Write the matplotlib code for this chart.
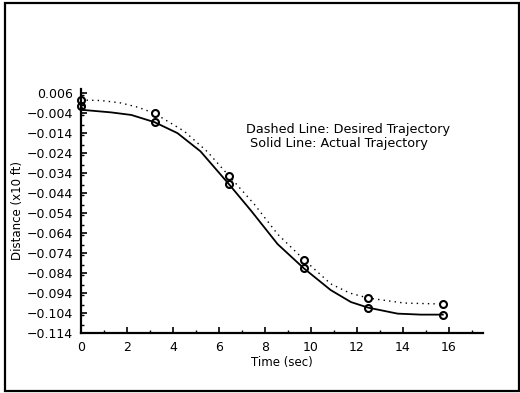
import matplotlib
matplotlib.use("Agg")
import matplotlib.pyplot as plt
from matplotlib.ticker import FixedLocator, MultipleLocator, FuncFormatter

# ---- data ----
t_marks = [0.0, 3.2, 6.45, 9.7, 12.5, 15.75]
desired_marks = [0.0027, -0.0040, -0.0354, -0.0772, -0.0965, -0.0995]
actual_marks = [-0.0005, -0.0084, -0.0396, -0.0816, -0.1013, -0.1048]

t_desired = [0.0, 0.9, 1.74, 2.5, 3.2, 4.5, 5.5, 6.45, 7.55, 8.56, 9.7, 10.87, 11.7, 12.5, 14.07, 15.75]
desired = [0.0027, 0.0024, 0.0012, -0.0010, -0.0040, -0.0130, -0.0232, -0.0354, -0.0496, -0.0645,
           -0.0772, -0.0894, -0.0940, -0.0965, -0.0990, -0.0995]

t_actual = [0.0, 0.1, 1.3, 2.19, 3.2, 4.2, 5.2, 6.45, 7.4, 8.56, 9.7, 10.87, 11.75, 12.5, 13.78, 14.8, 15.75]
actual = [-0.0005, -0.0023, -0.0035, -0.0048, -0.0084, -0.0139, -0.0230, -0.0396, -0.0527, -0.0695,
          -0.0816, -0.0925, -0.0985, -0.1013, -0.1043, -0.1048, -0.1048]

x_ticks = [0, 2, 4, 6, 8, 10, 12, 14, 16]
y_ticks = [0.006, -0.004, -0.014, -0.024, -0.034, -0.044, -0.054, -0.064,
           -0.074, -0.084, -0.094, -0.104, -0.114]

W, H = 520, 393
fig = plt.figure(figsize=(W / 100, H / 100), dpi=100)
fig.patch.set_facecolor("white")

# outer frame
frame = plt.Rectangle((4.5 / W, 2.5 / H), (W - 6) / W, (H - 5) / H, transform=fig.transFigure,
                      fill=False, edgecolor="black", linewidth=1.6)
fig.add_artist(frame)

ax = fig.add_axes([81 / W, (H - 333) / H, 402 / W, (333 - 89) / H])
ax.set_xlim(0, 17.5)
ax.set_ylim(-0.114, 0.0082)

for s in ["top", "right"]:
    ax.spines[s].set_visible(False)
for s in ["left", "bottom"]:
    ax.spines[s].set_linewidth(1.6)

ax.xaxis.set_major_locator(FixedLocator(x_ticks))
ax.xaxis.set_minor_locator(MultipleLocator(1))
ax.yaxis.set_major_locator(FixedLocator(y_ticks))
ax.yaxis.set_minor_locator(MultipleLocator(0.005))
ax.yaxis.set_major_formatter(FuncFormatter(lambda v, p: ("\u2212" + f"{abs(v):.3f}") if v < 0 else f"{v:.3f}"))
ax.tick_params(which="major", direction="in", length=4, width=1.2, labelsize=9, pad=6)
ax.tick_params(which="minor", direction="in", length=2.5, width=1.0)

ax.plot(t_desired, desired, color="black", linewidth=1.0, linestyle=(0, (1, 3)))
ax.plot(t_actual, actual, color="black", linewidth=1.3)
ax.plot(t_marks, desired_marks, linestyle="none", marker="o", markersize=5,
        markerfacecolor="white", markeredgecolor="black", markeredgewidth=1.5, clip_on=False)
ax.plot(t_marks, actual_marks, linestyle="none", marker="o", markersize=5,
        markerfacecolor="none", markeredgecolor="black", markeredgewidth=1.5, clip_on=False)

ax.set_xlabel("Time (sec)", fontsize=8.5, labelpad=1)
ax.set_ylabel("Distance (x10 ft)", fontsize=8.5, labelpad=2)

ax.text(246 / W, 1 - 129.5 / H, "Dashed Line: Desired Trajectory", transform=fig.transFigure,
        fontsize=9.2, ha="left", va="center")
ax.text(250 / W, 1 - 143 / H, "Solid Line: Actual Trajectory", transform=fig.transFigure,
        fontsize=9.2, ha="left", va="center")

fig.savefig("out.png", dpi=100, facecolor="white")
